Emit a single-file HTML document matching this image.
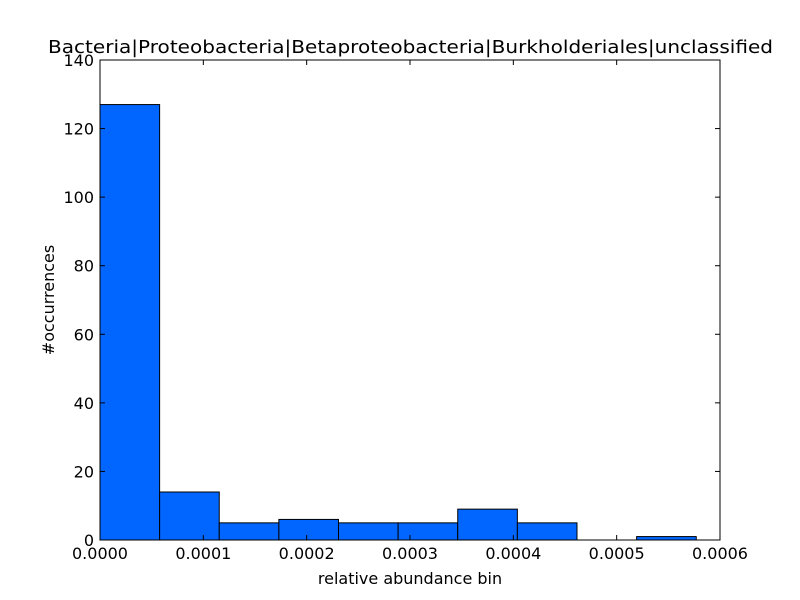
<!DOCTYPE html>
<html><head><meta charset="utf-8"><style>
body{margin:0;background:#fff;}
svg{display:block;font-family:"DejaVu Sans","Liberation Sans",sans-serif;}
</style></head><body>
<svg id="chart" width="800" height="600"></svg>
<script>
const binCounts=[127,14,5,6,5,5,9,5,0,1];
const binStart=0;
const binWidth=0.0000577;
const xTicks=[0,0.0001,0.0002,0.0003,0.0004,0.0005,0.0006];
const xTickLabels=["0.0000","0.0001","0.0002","0.0003","0.0004","0.0005","0.0006"];
const yTicks=[0,20,40,60,80,100,120,140];
const yTickLabels=["0","20","40","60","80","100","120","140"];
const L=100,R=720,T=60,B=540,xMax=0.0006,yMax=140;
const xs=v=>L+(v/xMax)*(R-L);
const ys=v=>B-(v/yMax)*(B-T);
const svg=document.getElementById('chart');
const NS='http://www.w3.org/2000/svg';
function mk(tag,attrs,parent){const e=document.createElementNS(NS,tag);for(const k in attrs)e.setAttribute(k,attrs[k]);(parent||svg).appendChild(e);return e;}
const bars=mk('g',{});


binCounts.forEach((c,i)=>{
  const x0=xs(binStart+i*binWidth),x1=xs(binStart+(i+1)*binWidth);
  const r=mk('rect',{x:x0,y:ys(c),width:x1-x0,height:ys(0)-ys(c),fill:'#0066ff',stroke:'#000','stroke-width':1},bars);
  
  
});
const frame=mk('rect',{x:L,y:T,width:R-L,height:B-T,fill:'none',stroke:'#000','stroke-width':1});


xTicks.forEach((v,i)=>{
  const x=xs(v);
  mk('line',{x1:x,x2:x,y1:B,y2:B-5,stroke:'#000'});
  mk('line',{x1:x,x2:x,y1:T,y2:T+5,stroke:'#000'});
  const t=mk('text',{x:x,y:B+19,'text-anchor':'middle','font-size':16});
  t.textContent=xTickLabels[i];
  
  
});
yTicks.forEach((v,i)=>{
  const y=ys(v);
  mk('line',{x1:L,x2:L+5,y1:y,y2:y,stroke:'#000'});
  mk('line',{x1:R,x2:R-5,y1:y,y2:y,stroke:'#000'});
  const t=mk('text',{x:L-6,y:y+6,'text-anchor':'end','font-size':16});
  t.textContent=yTickLabels[i];
  
  
});
const title=mk('text',{x:48,y:53,'font-size':18,textLength:725,lengthAdjust:'spacingAndGlyphs'});
title.textContent='Bacteria|Proteobacteria|Betaproteobacteria|Burkholderiales|unclassified';


const xl=mk('text',{x:410,y:584,'text-anchor':'middle','font-size':16});
xl.textContent='relative abundance bin';


const yl=mk('text',{x:54,y:300,'text-anchor':'middle','font-size':16,transform:'rotate(-90 54 300)'});
yl.textContent='#occurrences';


</script>
</body></html>
